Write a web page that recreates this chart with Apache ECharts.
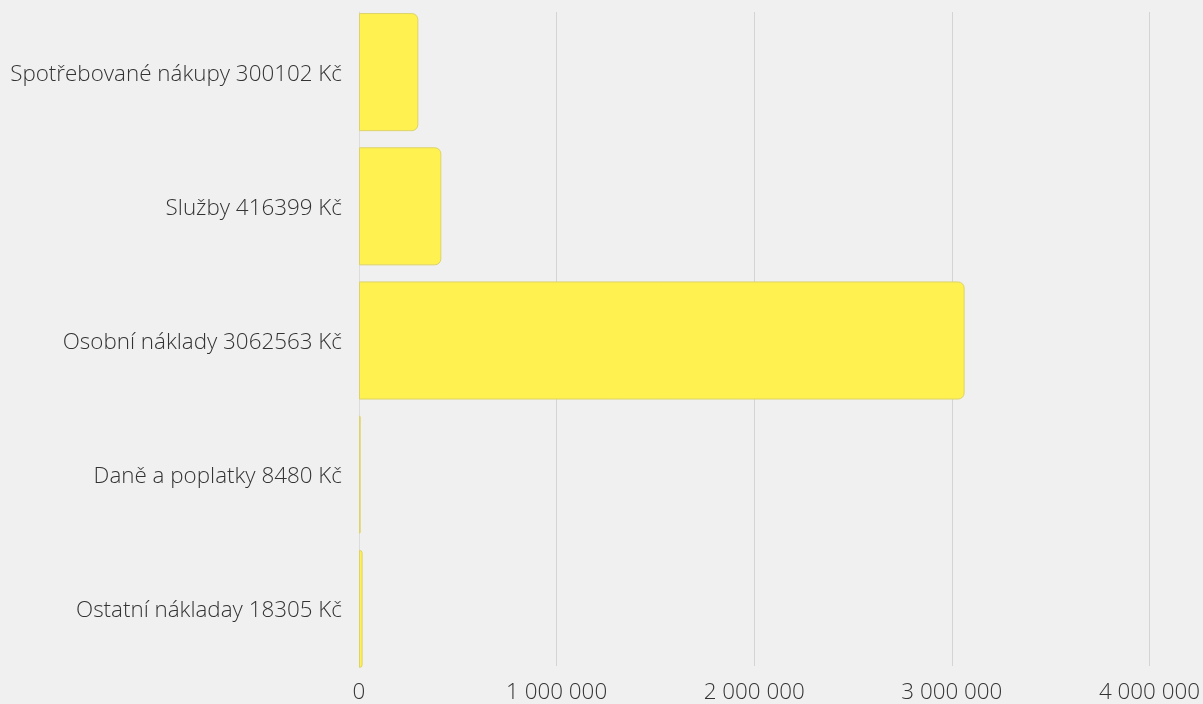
<!DOCTYPE html>
<html><head><meta charset="utf-8">
<script src="https://cdn.jsdelivr.net/npm/echarts@6/dist/echarts.min.js"></script>
<style>html,body{margin:0;padding:0;background:#f0f0f0}#c{width:1203px;height:704px}</style>
</head><body><div id="c"></div>
<script>
const categories = ["Spotřebované nákupy 300102 Kč","Služby 416399 Kč","Osobní náklady 3062563 Kč","Daně a poplatky 8480 Kč","Ostatní nákladay 18305 Kč"];
const values = [300102, 416399, 3062563, 8480, 18305];
const xMin = 0, xMax = 4000000, xStep = 1000000;

const font = {fontFamily:'"Open Sans", sans-serif', fontWeight:300, fontSize:22.4, color:'#333'};
const fmt = v => String(v).replace(/\B(?=(\d{3})+(?!\d))/g, ' ');
const chart = echarts.init(document.getElementById('c'));
chart.setOption({
  backgroundColor:'#f0f0f0',
  animation:false,
  grid:[
    {left:359, right:53, top:12, bottom:36},
    {left:359, right:53, top:5, bottom:28},
    {left:359, right:53, top:8, bottom:26}
  ],
  xAxis:[
    {gridIndex:0, type:'value', min:xMin, max:xMax, interval:xStep,
     axisLine:{show:false}, axisTick:{show:false},
     axisLabel:Object.assign({formatter:fmt, margin:16}, font),
     splitLine:{lineStyle:{color:'#d4d4d4', width:1}}},
    {gridIndex:1, type:'value', min:xMin, max:xMax, interval:xStep, show:false, splitLine:{show:false}},
    {gridIndex:2, type:'value', min:xMin, max:xMax, interval:xStep, show:false, splitLine:{show:false}}
  ],
  yAxis:[
    {gridIndex:0, type:'category', data:categories, inverse:true,
     axisLine:{show:true, lineStyle:{color:'#dcdcdc'}}, axisTick:{show:false}, axisLabel:{show:false}, splitLine:{show:false}},
    {gridIndex:1, type:'category', data:categories, inverse:true, show:false},
    {gridIndex:2, type:'category', data:categories, inverse:true,
     axisLine:{show:false}, axisTick:{show:false}, splitLine:{show:false},
     axisLabel:Object.assign({margin:17}, font)}
  ],
  series:[{
    type:'bar', xAxisIndex:1, yAxisIndex:1, data:values,
    barCategoryGap:'12%',
    itemStyle:{color:'#fff150', borderColor:'#dcd36a', borderWidth:1, borderRadius:[0,6,6,0]}
  }]
});
</script></body></html>
